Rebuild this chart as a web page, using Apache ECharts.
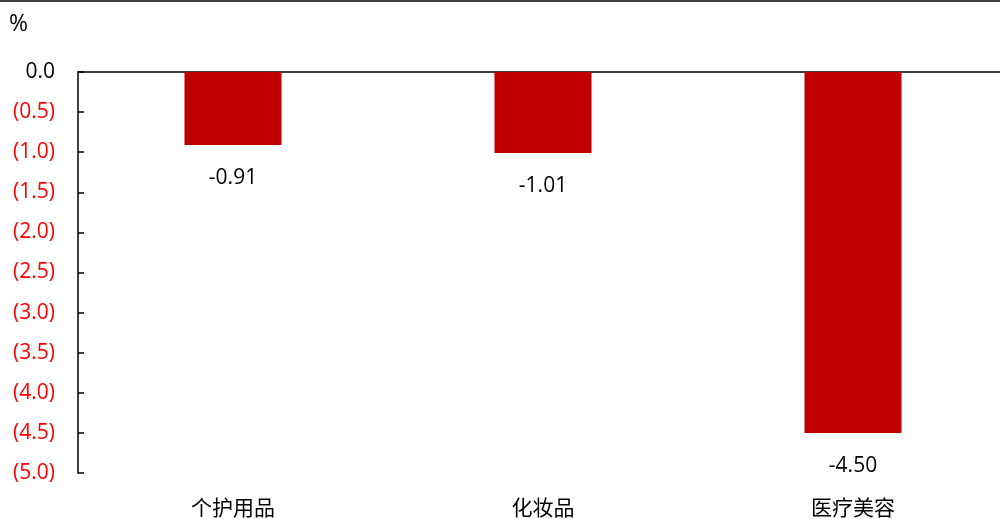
<!DOCTYPE html>
<html><head><meta charset="utf-8">
<script src="https://cdn.jsdelivr.net/npm/echarts@6/dist/echarts.min.js"></script>
<style>html,body{margin:0;padding:0;background:#fff}#c{width:1000px;height:519px}</style>
</head><body><div id="c"></div>
<script>
const categories = ['个护用品', '化妆品', '医疗美容'];
const values = [-0.91, -1.01, -4.50];
const yMin = -5, yMax = 0, yStep = 0.5;
const unitLabel = '%';

const FONT = '"Open Sans","Noto Sans CJK SC",sans-serif';
const chart = echarts.init(document.getElementById('c'));
chart.setOption({
  animation: false,
  textStyle: {fontFamily: FONT},
  grid: {left: 78, width: 930, top: 72, bottom: 46, containLabel: false, outerBoundsMode: 'none'},
  graphic: [
    {type: 'line', shape: {x1: 0, y1: 1, x2: 1000, y2: 1}, style: {stroke: '#404040', lineWidth: 2}},
    {type: 'text', left: 9, top: 13, style: {text: unitLabel, fontSize: 23, fill: '#000', fontFamily: FONT}}
  ],
  xAxis: [
    {type: 'category', data: categories, position: 'bottom',
     axisLine: {show: false}, axisTick: {show: false},
     axisLabel: {fontSize: 21, color: '#000', margin: 26, fontFamily: FONT}},
    {type: 'category', data: categories, position: 'top',
     axisLine: {show: true, lineStyle: {color: '#000', width: 1.5}}, axisTick: {show: false},
     axisLabel: {show: false}}
  ],
  yAxis: {
    type: 'value', min: yMin, max: yMax, interval: yStep,
    axisLine: {show: true, lineStyle: {color: '#000', width: 1.5}},
    axisTick: {show: true, inside: true, length: 6, lineStyle: {color: '#000', width: 1.5}},
    splitLine: {show: false},
    axisLabel: {
      fontSize: 21, margin: 23, fontFamily: FONT,
      formatter: v => Math.abs(v) < 1e-9 ? '{z|0.0}' : '{n|(' + Math.abs(v).toFixed(1) + ')}',
      rich: {z: {color: '#000', fontSize: 21, fontFamily: FONT}, n: {color: '#FF0000', fontSize: 21, fontFamily: FONT}}
    }
  },
  series: [{
    type: 'bar', data: values, barWidth: '31.3%', xAxisIndex: 0,
    itemStyle: {color: '#C00000'},
    label: {show: true, position: 'bottom', distance: 23, fontSize: 21, color: '#000', fontFamily: FONT,
            formatter: p => p.value.toFixed(2)}
  }]
});
</script></body></html>
